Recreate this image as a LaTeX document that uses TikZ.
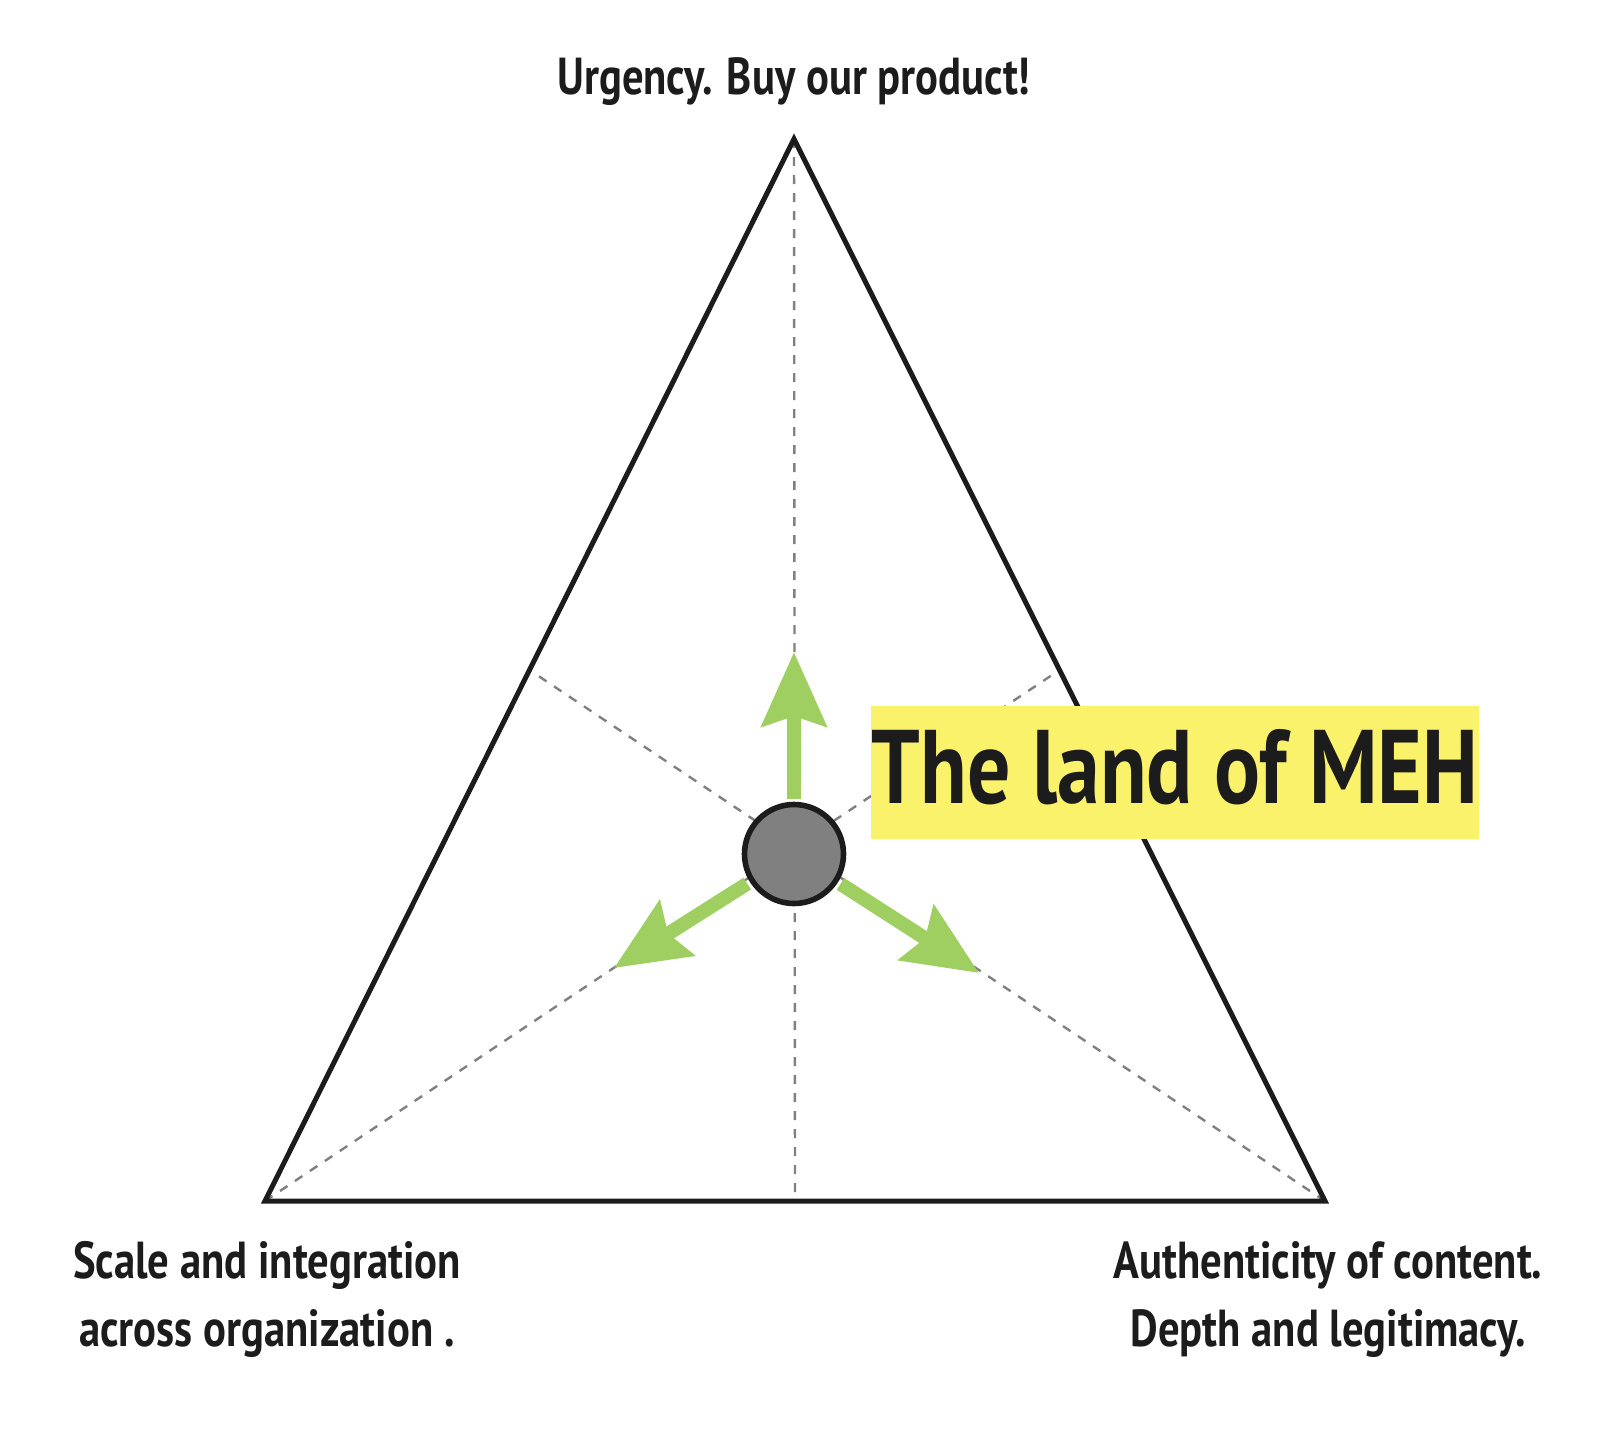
\documentclass[tikz,border=0pt]{standalone}
\usepackage{fontspec}
\setmainfont{PT Sans}[FakeStretch=0.82]
\usetikzlibrary{arrows.meta,calc}
\definecolor{ink}{RGB}{28,28,28}
\definecolor{meh}{RGB}{251,242,107}
\definecolor{leaf}{RGB}{158,207,96}
\definecolor{dot}{RGB}{128,128,128}
\begin{document}
\begin{tikzpicture}[x=0.5pt,y=-0.5pt,
  side/.style={draw=ink,line width=2.5pt,line join=miter},
  median/.style={draw=dot,line width=1.2pt,dash pattern=on 4.5pt off 4.5pt},
  push/.style={draw=leaf,line width=7pt,shorten <=1.5pt,-{Stealth[length=37pt,width=32pt,inset=5pt]}},
  lbl/.style={font=\fontsize{26}{34}\selectfont\bfseries,text=ink,inner sep=0pt,align=center}]
\useasboundingbox (0,0) rectangle (1610,1434);
\coordinate (A) at (794,139);
\coordinate (B) at (265,1201);
\coordinate (C) at (1325,1201);
\coordinate (G) at (794,854);
\coordinate (mAB) at ($(A)!0.5!(B)$);
\coordinate (mBC) at ($(B)!0.5!(C)$);
\coordinate (mCA) at ($(C)!0.5!(A)$);
\coordinate (tipU) at (794,652);
\coordinate (tipL) at (614,968);
\coordinate (tipR) at (979,973);
% medians
\draw[median] (A) -- (mBC);
\draw[median] (B) -- (mCA);
\draw[median] (C) -- (mAB);
% triangle
\draw[side] (A) -- (B) -- (C) -- cycle;
% hub
\node[circle,draw=ink,fill=dot,line width=2.8pt,minimum size=49.5pt,inner sep=0pt] (hub) at (G) {};
% arrows
\draw[push] (hub) -- (tipU);
\draw[push] (hub) -- (tipL);
\draw[push] (hub) -- (tipR);
% labels
\node[lbl,anchor=base] (top) at (794,95) {Urgency. Buy our product!};
\node[lbl,anchor=north] (left) at (267,1241) {Scale and integration\\across organization .};
\node[lbl,anchor=north] (right) at (1328,1241) {Authenticity of content.\\Depth and legitimacy.};
\node[fill=meh,minimum width=304pt,minimum height=66.5pt,inner sep=0pt,text height=30.5pt,text depth=0pt,font=\fontsize{52.3}{60}\selectfont\bfseries,text=ink] (meh) at (1175,772.5) {The land of MEH};
\end{tikzpicture}
\end{document}
